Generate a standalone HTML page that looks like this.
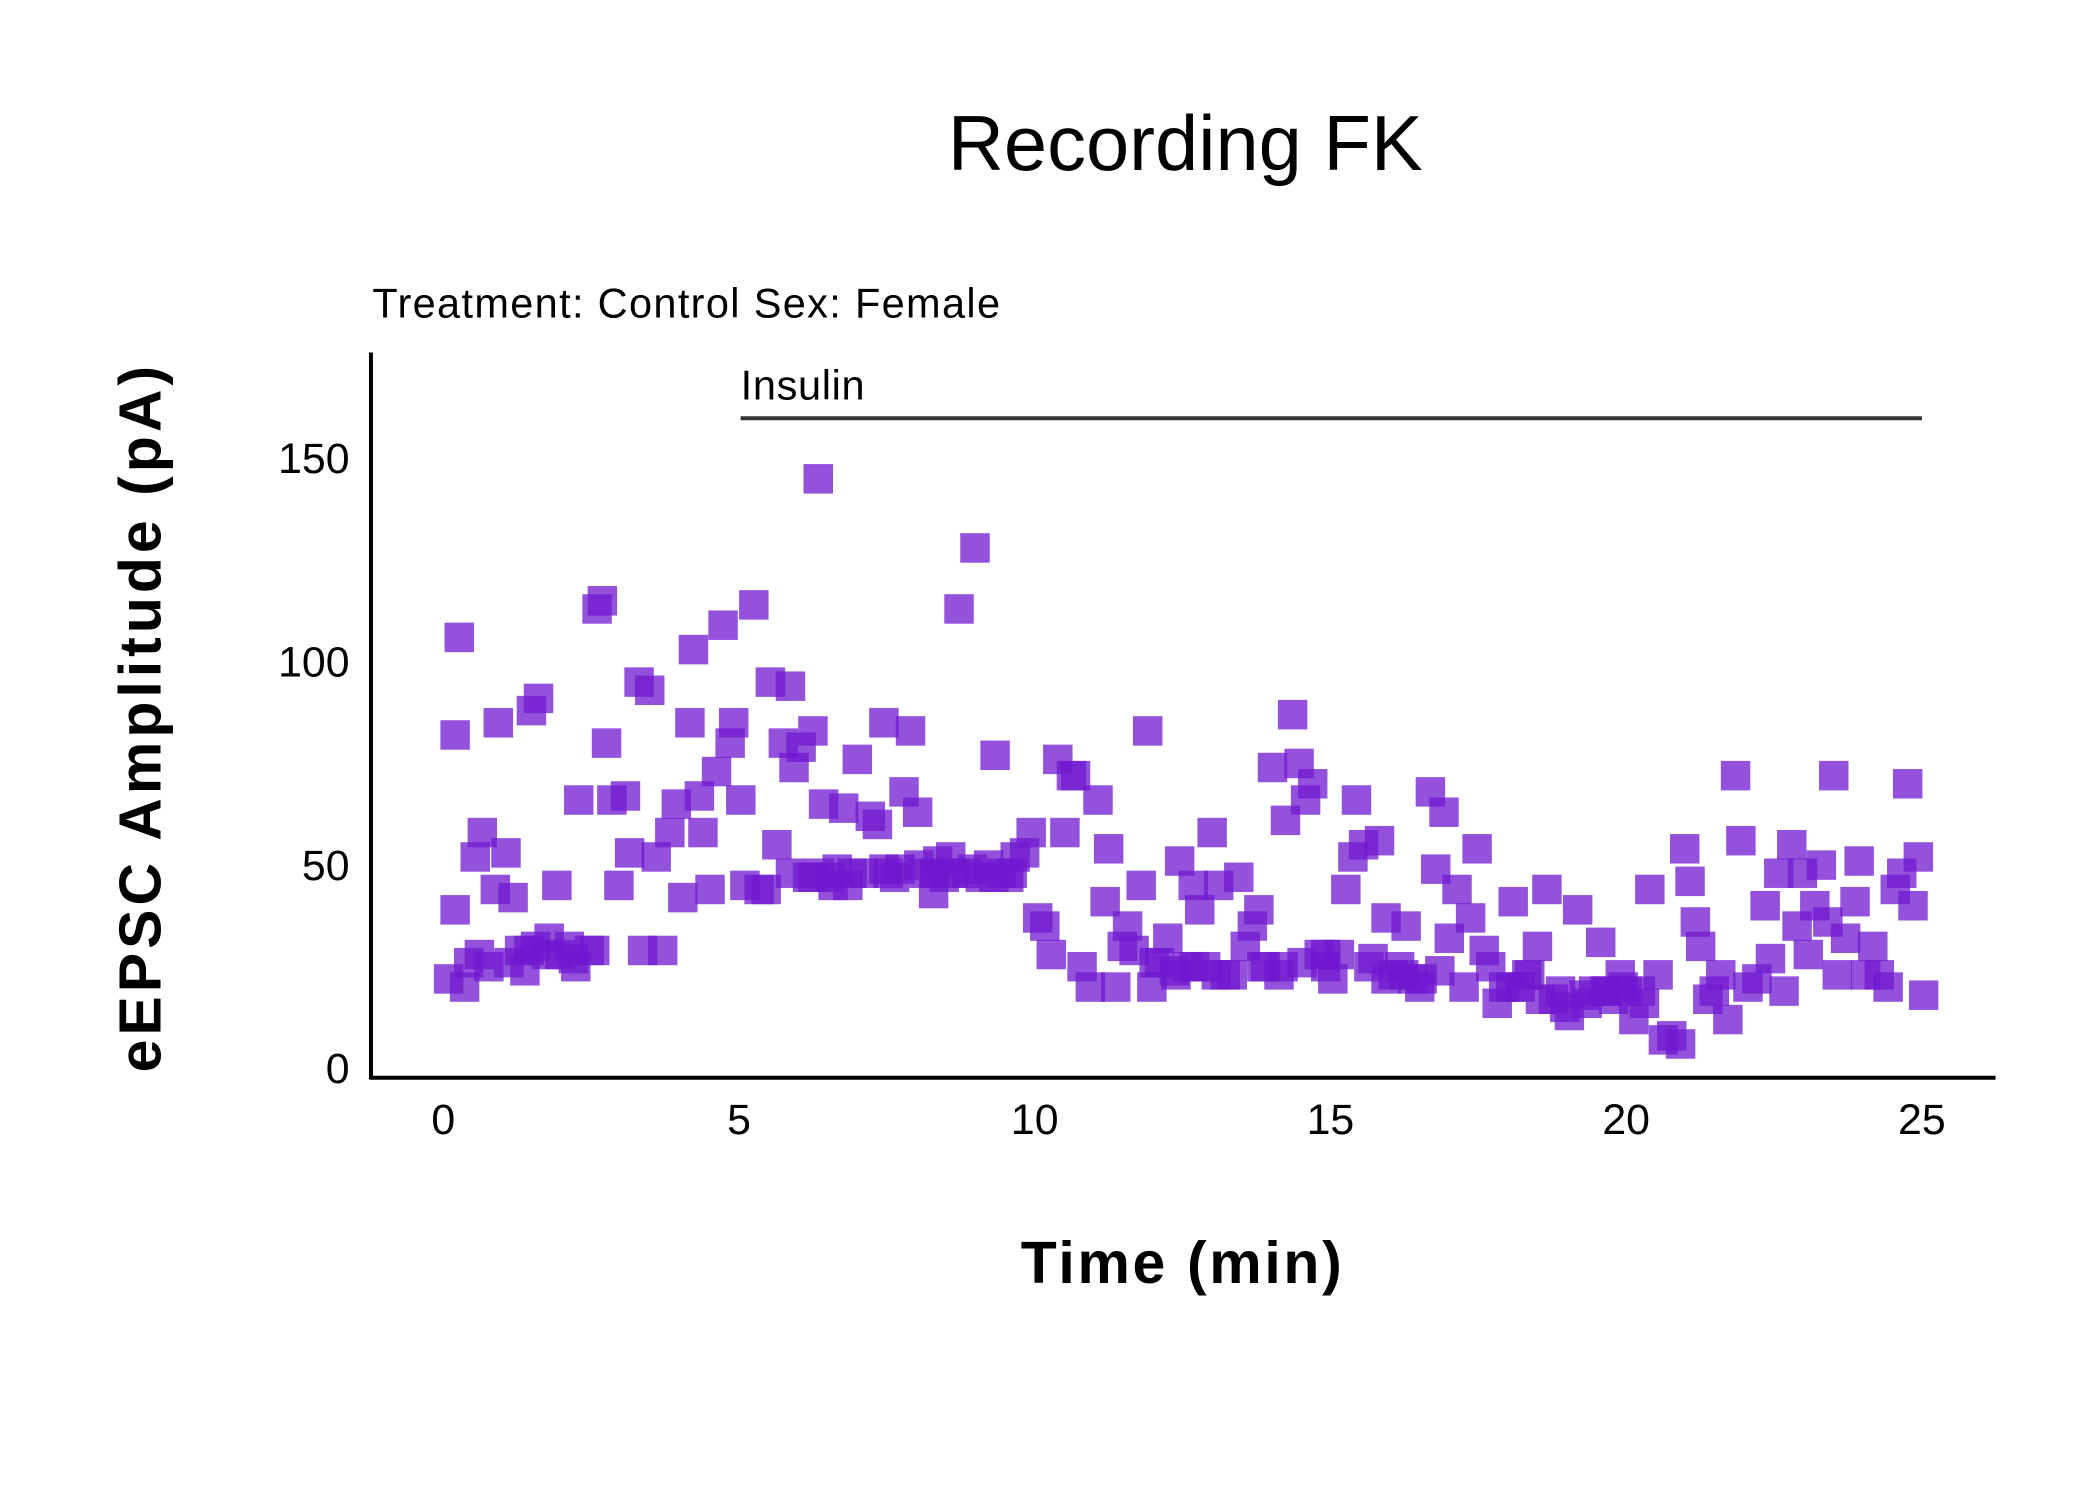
<!DOCTYPE html>
<html><head><meta charset="utf-8"><style>
html,body{margin:0;padding:0;background:#fff}
svg{display:block;font-family:"Liberation Sans",sans-serif}
</style></head><body>
<svg id="chart" width="2100" height="1500" viewBox="0 0 1568 1119" preserveAspectRatio="none" xmlns="http://www.w3.org/2000/svg">
<rect width="1568" height="1119" fill="#fff"/>
<text x="885" y="127" font-size="58" text-anchor="middle" fill="#000">Recording FK</text>
<text x="278" y="237" font-size="31" letter-spacing="1" fill="#000">Treatment: Control  Sex: Female</text>
<text x="553" y="298" font-size="31" letter-spacing="0.5" fill="#000">Insulin</text>
<line x1="553" y1="312" x2="1435" y2="312" stroke="#333" stroke-width="3"/>
<g id="points"></g>
<line x1="277" y1="263" x2="277" y2="805" stroke="#000" stroke-width="3"/>
<line x1="276" y1="804" x2="1490" y2="804" stroke="#000" stroke-width="3"/>
<g id="xticks"></g>
<g id="yticks"></g>
<text x="883" y="957" font-size="44" font-weight="bold" letter-spacing="2" text-anchor="middle" fill="#000">Time (min)</text>
<text transform="translate(120,535) rotate(-90)" font-size="44" font-weight="bold" letter-spacing="3" text-anchor="middle" fill="#000">eEPSC Amplitude (pA)</text>
</svg>
<script>
const times=[0.09,0.20,0.27,0.20,0.36,0.43,0.54,0.66,0.77,0.88,0.93,1.06,1.18,1.29,1.38,1.49,1.61,1.56,1.79,1.92,1.97,2.13,2.24,2.29,2.47,2.60,2.69,2.76,2.85,2.97,3.08,3.15,3.31,3.37,3.49,3.60,3.71,3.83,3.94,4.05,4.17,4.23,4.33,4.39,4.51,4.62,4.73,4.85,4.91,5.03,5.10,5.25,5.34,5.46,5.53,5.64,5.75,5.87,5.93,6.05,6.16,6.25,6.34,6.43,6.54,6.66,6.77,6.84,7.00,7.11,7.22,7.34,7.45,7.52,7.63,7.79,7.90,8.02,8.13,8.29,8.36,8.47,8.58,8.72,8.85,8.99,9.08,9.22,9.33,9.44,9.56,9.67,9.83,9.94,10.05,10.17,10.28,10.39,10.51,10.62,10.69,10.80,10.94,11.07,11.19,11.25,11.37,11.48,11.57,11.68,11.80,11.91,11.98,12.11,12.25,12.36,12.45,12.59,12.68,12.79,12.89,13.00,13.11,13.22,13.34,13.45,13.56,13.68,13.79,13.90,14.02,14.13,14.24,14.36,14.47,14.58,14.70,14.81,14.92,15.04,15.15,15.26,15.38,15.44,15.56,15.72,15.83,15.94,16.06,16.17,16.28,16.39,16.51,16.69,16.78,16.92,17.01,17.14,17.26,17.37,17.48,17.60,17.71,17.82,17.93,18.09,18.21,18.32,18.50,18.66,18.77,18.89,19.04,19.18,19.29,19.45,19.57,19.68,19.79,19.90,20.02,20.13,20.24,20.40,20.54,20.63,20.77,20.92,20.99,21.08,21.17,21.26,21.38,21.49,21.60,21.72,21.85,21.94,22.06,22.21,22.35,22.44,22.58,22.67,22.80,22.89,22.98,23.08,23.19,23.30,23.41,23.51,23.57,23.71,23.87,23.94,24.05,24.17,24.28,24.43,24.55,24.66,24.76,24.85,24.94,25.03,
5.87,6.25,6.36,6.59,6.91,7.45,7.72,8.04,8.31,8.63,8.94,9.31,9.62,12.02,12.39,12.70,13.07,13.84,14.20,14.52,14.92,15.65,15.94,16.24,16.55,16.85,18.05,18.37,18.55,18.96,19.34,19.64,19.95,20.31,0.61,1.11,1.45,1.74,2.20,2.56];
const amps=[22,82,106,39,20,26,52,58,25,44,85,53,42,29,24,88,91,30,32,45,28,30,25,66,29,113,115,80,66,45,67,53,95,29,93,52,29,58,65,42,85,103,67,58,44,73,109,80,85,66,45,114,44,44,95,55,80,94,74,79,47,83,145,65,47,49,64,45,76,48,62,60,85,48,47,68,83,63,48,43,51,47,52,113,48,128,47,50,77,48,47,52,53,58,37,35,28,76,58,72,72,25,20,66,41,54,20,30,35,29,45,83,20,26,32,24,51,25,45,39,25,58,45,23,23,47,30,35,39,25,74,23,61,87,75,66,70,28,25,22,28,44,52,66,55,27,56,37,23,25,35,22,20,68,49,63,32,44,20,37,54,29,25,16,20,41,20,23,30,44,17,19,13,39,18,19,31,19,17,23,19,12,19,44,23,7,8,6,54,46,36,30,17,19,23,12,72,56,20,22,40,27,48,19,55,35,48,28,40,50,36,72,23,32,41,51,23,30,23,20,44,48,70,40,52,18,
48,47,48,45,48,49,49,50,48,48,49,47,48,26,23,25,23,25,25,26,28,25,22,23,22,24,20,23,17,15,16,19,20,16,28,26,29,28,27,29];
const xTickVals=[0,5,10,15,20,25];
const yTickVals=[0,50,100,150];
const X0=331,XS=44.16,Y0=797,YS=3.033;
function sx(t){return X0+t*XS;}
function sy(v){return Y0-v*YS;}
const NS="http://www.w3.org/2000/svg";
const pg=document.getElementById('points');
for(let i=0;i<times.length;i++){
  const r=document.createElementNS(NS,'rect');
  
  
  r.setAttribute('x',sx(times[i])-11);r.setAttribute('y',sy(amps[i])-11);
  r.setAttribute('width',22);r.setAttribute('height',22);
  r.setAttribute('fill','rgb(112,24,208)');r.setAttribute('fill-opacity','0.75');
  pg.appendChild(r);
}
const xg=document.getElementById('xticks');
xTickVals.forEach(v=>{
  const t=document.createElementNS(NS,'text');
  
  
  t.setAttribute('x',sx(v));t.setAttribute('y',846);
  t.setAttribute('font-size','32');t.setAttribute('text-anchor','middle');
  t.textContent=v;xg.appendChild(t);
});
const yg=document.getElementById('yticks');
yTickVals.forEach(v=>{
  const t=document.createElementNS(NS,'text');
  
  
  t.setAttribute('x',261);t.setAttribute('y',sy(v)+11);
  t.setAttribute('font-size','32');t.setAttribute('text-anchor','end');
  t.textContent=v;yg.appendChild(t);
});
</script>
</body></html>
